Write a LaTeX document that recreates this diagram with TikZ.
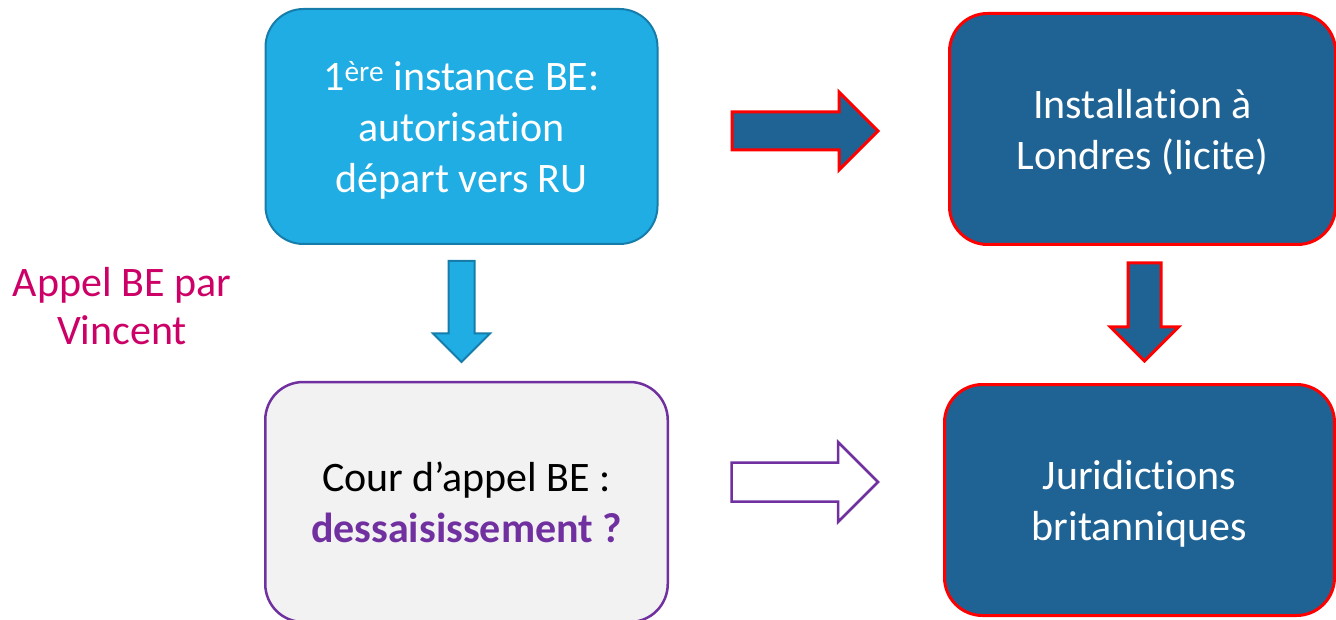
\documentclass[tikz,border=0pt]{standalone}
\usepackage{fontspec}
\setmainfont{Carlito}[Ligatures=NoCommon]
\usetikzlibrary{shapes.arrows}
\definecolor{cyanbox}{RGB}{31,173,228}
\definecolor{cyanedge}{RGB}{22,125,170}
\definecolor{navybox}{RGB}{31,99,148}
\definecolor{appelpurple}{RGB}{112,48,160}
\definecolor{appelgrey}{RGB}{242,242,242}
\definecolor{appelpink}{RGB}{204,0,102}

\begin{document}
\begin{tikzpicture}[x=1pt, y=-1pt,
    box/.style={rectangle, rounded corners=38pt, align=center, inner sep=0pt,
      text depth=0pt, font=\fontsize{42}{51}\selectfont},
    bigarrow/.style={single arrow, single arrow head indent=0pt, anchor=tail}]
    \useasboundingbox (0,0) rectangle (1336,620);
    \node[box, fill=cyanbox, draw=cyanedge, line width=2pt, text=white,
      minimum width=392pt, minimum height=235pt] (premiere) at (461.5,126.5)
      {1\textsuperscript{ère} instance BE:\\autorisation\\départ vers RU};
    \node[box, fill=navybox, draw=red, line width=3pt, text=white,
      minimum width=386pt, minimum height=231pt] (londres) at (1142.5,129)
      {Installation à\\Londres (licite)};
    \node[box, fill=appelgrey, draw=appelpurple, line width=2.5pt, text=black,
      minimum width=402.5pt, minimum height=240pt] (cour) at (466.5,502)
      {Cour d’appel BE :\\\textbf{\color{appelpurple}dessaisissement ?}};
    \node[box, fill=navybox, draw=red, line width=3pt, text=white,
      minimum width=390pt, minimum height=231pt] (juridictions) at (1139.5,500)
      {Juridictions\\britanniques};
    \node[text=appelpink, align=center, inner sep=0pt,
      font=\fontsize{42}{48}\selectfont] (appel) at (122,306) {Appel BE par\\Vincent};
    \node[bigarrow, fill=navybox, draw=red, line width=3pt, inner sep=17.5pt,
      single arrow head extend=20pt, minimum height=146pt] (depart) at (730.5,131) {};
    \node[bigarrow, shape border rotate=270, fill=cyanbox, draw=cyanedge, line width=2pt,
      inner sep=12pt, single arrow head extend=15.5pt, minimum height=101pt] (recours) at (461.5,260) {};
    \node[bigarrow, shape border rotate=270, fill=navybox, draw=red, line width=3pt,
      inner sep=15pt, single arrow head extend=17.5pt, minimum height=98pt] (saisine) at (1144.5,261.5) {};
    \node[bigarrow, fill=white, draw=appelpurple, line width=2.5pt, inner sep=18.25pt,
      single arrow head extend=20.5pt, minimum height=146.5pt] (renvoi) at (730.25,482) {};
\end{tikzpicture}
\end{document}
